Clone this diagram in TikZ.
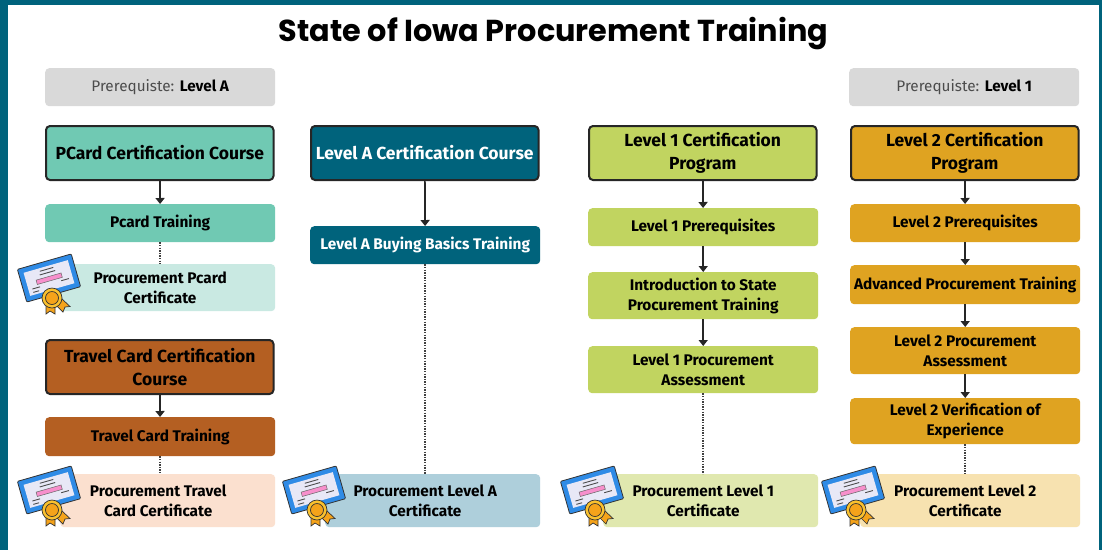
\documentclass[tikz,border=0pt]{standalone}
\usepackage{fontspec}
\setmainfont{Fira Sans}
\newfontfamily\titlefont{Poppins}
\usetikzlibrary{arrows.meta}

\definecolor{framecol}{HTML}{00637C}
\definecolor{prereqcol}{HTML}{D9D9D9}
\definecolor{pcardcol}{HTML}{70C9B3}
\definecolor{pcardlight}{HTML}{C9E9E2}
\definecolor{travelcol}{HTML}{B45F22}
\definecolor{travellight}{HTML}{FBE0CF}
\definecolor{levelacol}{HTML}{00637C}
\definecolor{levelalight}{HTML}{AECFDB}
\definecolor{levelonecol}{HTML}{C1D460}
\definecolor{levelonelight}{HTML}{E0E8AF}
\definecolor{leveltwocol}{HTML}{DFA321}
\definecolor{leveltwolight}{HTML}{F7E2B0}
\definecolor{certblue}{HTML}{2F8BE6}
\definecolor{certpaper}{HTML}{E8E8F6}
\definecolor{certpink}{HTML}{F78FCC}
\definecolor{certgold}{HTML}{F5A31A}
\definecolor{certyellow}{HTML}{FAC12E}

\tikzset{
    box/.style={rectangle, rounded corners=4pt, anchor=north west, align=center,
        inner sep=0pt, font=\fontsize{15.4}{20}\selectfont\bfseries},
    course/.style={box, draw=black!85, line width=2pt, minimum width=227.5pt, minimum height=54pt,
        font=\fontsize{17.5}{23}\selectfont\bfseries},
    prereq/.style={box, fill=prereqcol, font=\fontsize{15.3}{20}\selectfont, text=black!70},
    arrow/.style={draw=black!85, line width=1.7pt, -{Triangle[length=6pt,width=9pt]}},
    dots/.style={draw=black!75, line width=1.6pt, dash pattern=on 1.3pt off 1.3pt},
}

% sheet and rosette, centred on the sheet
\newcommand{\certicon}[1]{
    \begin{scope}[shift={#1}, rotate=16]
        \draw[black!80, fill=certblue, line width=0.8pt, rounded corners=1pt] (-28,-17) rectangle (28,17);
        \fill[certpaper] (-23,-12) rectangle (23,12);
        \foreach \ypos/\xlen in {-9/7, -5.5/8}
            \draw[black!70, line width=0.9pt] (-\xlen,\ypos) -- (\xlen,\ypos);
        \draw[black!60, fill=certpink, line width=0.5pt] (-13,-1.5) rectangle (13,3);
        \draw[black!70, line width=0.9pt] (-19,6) -- (-11,6);
        \draw[black!70, line width=0.9pt] (-19,9.5) -- (-13,9.5);
        \draw[black!70, line width=0.9pt] (11,6) -- (19,6);
    \end{scope}
    \begin{scope}[shift={#1}]
        \draw[black!80, fill=certgold, line width=0.7pt] (-3,24) -- (-3,36) -- (1,33) -- (6,36) -- (6,26) -- cycle;
        \draw[black!80, fill=certgold, line width=0.7pt] (6,26) -- (14,34) -- (16,29) -- (21,28.5) -- (12,20) -- cycle;
        \draw[black!80, fill=certyellow, line width=0.7pt] (3,20) circle (10);
        \draw[black!80, fill=certgold, line width=0.7pt] (3,20) circle (6.5);
    \end{scope}
}
\newcommand{\certtext}[3]{\hspace*{#1}#2\\\hspace*{#1}#3}

\begin{document}
\begin{tikzpicture}[x=1pt, y=-1pt]
    \useasboundingbox (0,0) rectangle (1102,550);
    \fill[framecol] (0,0) rectangle (1102,550);
    \fill[white] (8,5) rectangle (1099,550);

    \node[font=\titlefont\fontsize{30.3}{36}\selectfont\bfseries] (title) at (553.5,34) {State of Iowa Procurement Training};

    \node[prereq, minimum width=230pt, minimum height=38pt] (prereqA) at (45,68) {Prerequiste: \textbf{\textcolor{black}{Level A}}};
    \node[prereq, minimum width=230pt, minimum height=38pt] (prereqOne) at (849,68) {Prerequiste: \textbf{\textcolor{black}{Level 1}}};

    % pcard
    \node[course, fill=pcardcol] (pcardCourse) at (45,125) {PCard Certification Course};
    \node[box, fill=pcardcol, minimum width=230pt, minimum height=38pt] (pcardTraining) at (45,204) {Pcard Training};
    \node[box, fill=pcardlight, minimum width=215pt, minimum height=47pt] (pcardCert) at (60,264) {\certtext{-15pt}{Procurement Pcard}{Certificate}};

    % travel
    \node[course, fill=travelcol] (travelCourse) at (45,339) {Travel Card Certification\\Course};
    \node[box, fill=travelcol, minimum width=230pt, minimum height=39pt] (travelTraining) at (45,417) {Travel Card Training};
    \node[box, fill=travellight, minimum width=215pt, minimum height=53pt] (travelCert) at (60,474) {\certtext{-19pt}{Procurement Travel}{Card Certificate}};

    % level a
    \node[course, fill=levelacol, text=white] (levelACourse) at (310,125) {Level A Certification Course};
    \node[box, fill=levelacol, text=white, minimum width=230pt, minimum height=38pt] (levelATraining) at (310,226) {Level A Buying Basics Training};
    \node[box, fill=levelalight, minimum width=215pt, minimum height=53pt] (levelACert) at (325,474) {\certtext{-15pt}{Procurement Level A}{Certificate}};

    % level 1
    \node[course, fill=levelonecol] (oneCourse) at (588,125) {Level 1 Certification\\Program};
    \node[box, fill=levelonecol, minimum width=230pt, minimum height=38pt] (onePrereq) at (588,208) {Level 1 Prerequisites};
    \node[box, fill=levelonecol, minimum width=230pt, minimum height=47pt] (oneIntro) at (588,272) {Introduction to State\\Procurement Training};
    \node[box, fill=levelonecol, minimum width=230pt, minimum height=47pt] (oneAssess) at (588,346) {Level 1 Procurement\\Assessment};
    \node[box, fill=levelonelight, minimum width=215pt, minimum height=53pt] (oneCert) at (603,474) {\certtext{-15pt}{Procurement Level 1}{Certificate}};

    % level 2
    \node[course, fill=leveltwocol] (twoCourse) at (850,125) {Level 2 Certification\\Program};
    \node[box, fill=leveltwocol, minimum width=230pt, minimum height=38pt] (twoPrereq) at (850,204) {Level 2 Prerequisites};
    \node[box, fill=leveltwocol, minimum width=230pt, minimum height=39pt] (twoAdvanced) at (850,265) {Advanced Procurement Training};
    \node[box, fill=leveltwocol, minimum width=230pt, minimum height=47pt] (twoAssess) at (850,327) {Level 2 Procurement\\Assessment};
    \node[box, fill=leveltwocol, minimum width=230pt, minimum height=46pt] (twoVerify) at (850,398) {Level 2 Verification of\\Experience};
    \node[box, fill=leveltwolight, minimum width=220pt, minimum height=53pt] (twoCert) at (860,474) {\certtext{-10pt}{Procurement Level 2}{Certificate}};

    \draw[arrow] (pcardCourse) -- (pcardTraining);
    \draw[arrow] (travelCourse) -- (travelTraining);
    \draw[arrow] (levelACourse) -- (levelATraining);
    \draw[arrow] (oneCourse) -- (onePrereq);
    \draw[arrow] (onePrereq) -- (oneIntro);
    \draw[arrow] (oneIntro) -- (oneAssess);
    \draw[arrow] (twoCourse) -- (twoPrereq);
    \draw[arrow] (twoPrereq) -- (twoAdvanced);
    \draw[arrow] (twoAdvanced) -- (twoAssess);
    \draw[arrow] (twoAssess) -- (twoVerify);

    \draw[dots] (pcardTraining.south) -- (pcardTraining.south |- pcardCert.north);
    \draw[dots] (travelTraining.south) -- (travelTraining.south |- travelCert.north);
    \draw[dots] (levelATraining.south) -- (levelATraining.south |- levelACert.north);
    \draw[dots] (oneAssess.south) -- (oneAssess.south |- oneCert.north);
    \draw[dots] (twoVerify.south) -- (twoVerify.south |- twoCert.north);

    \certicon{(49,278)}
    \certicon{(49,490)}
    \certicon{(314,490)}
    \certicon{(592,490)}
    \certicon{(853,490)}
\end{tikzpicture}
\end{document}
